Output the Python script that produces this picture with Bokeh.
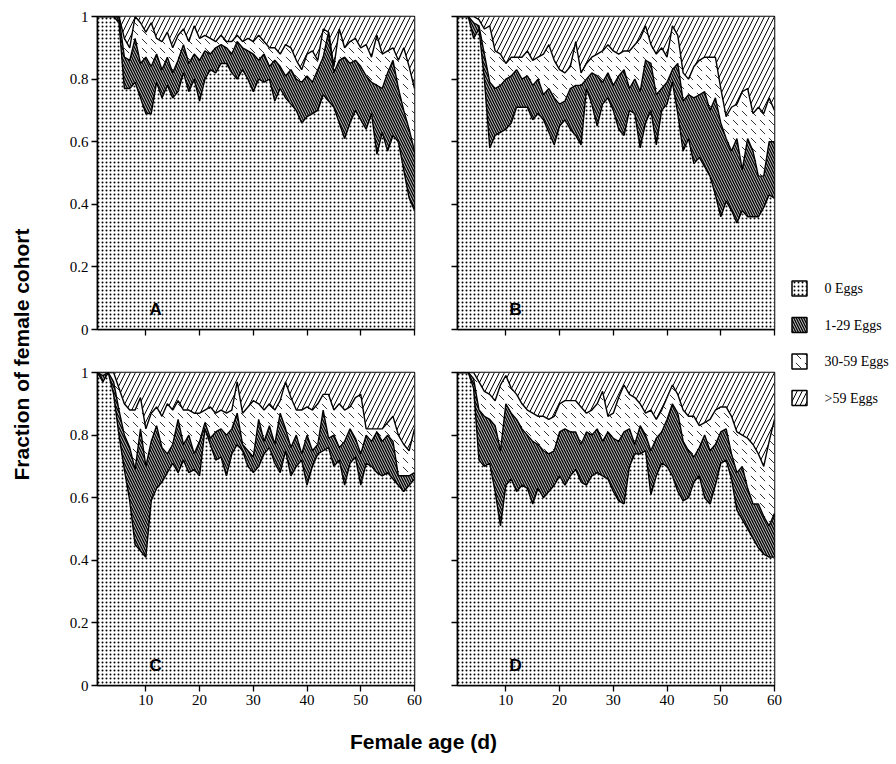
import numpy as np
from bokeh.plotting import figure
from bokeh.layouts import row, column
from bokeh.models import Range1d, FixedTicker, Label
from bokeh.embed import file_html
from bokeh.resources import INLINE
from bokeh.core.properties import value

# ---------------- data ----------------
days = list(range(1, 61))

# cumulative fractions: top of "0 Eggs", top of "1-29 Eggs", top of "30-59 Eggs" (rest up to 1 is ">59 Eggs")
A_zero = [1, 1, 1, 1, 0.98, 0.77, 0.77, 0.79, 0.74, 0.69, 0.69, 0.79, 0.74, 0.78, 0.74,
          0.76, 0.82, 0.76, 0.80, 0.73, 0.80, 0.83, 0.82, 0.85, 0.85, 0.82, 0.80, 0.83, 0.80, 0.76,
          0.80, 0.79, 0.80, 0.73, 0.77, 0.74, 0.72, 0.70, 0.66, 0.68, 0.69, 0.70, 0.75, 0.73, 0.71,
          0.66, 0.61, 0.66, 0.70, 0.67, 0.64, 0.69, 0.56, 0.63, 0.57, 0.62, 0.60, 0.51, 0.42, 0.38]
A_low = [1, 1, 1, 1, 1, 0.87, 0.86, 0.93, 0.85, 0.87, 0.84, 0.88, 0.83, 0.87, 0.82,
         0.86, 0.91, 0.85, 0.88, 0.86, 0.89, 0.88, 0.90, 0.91, 0.90, 0.88, 0.92, 0.90, 0.89, 0.88,
         0.86, 0.88, 0.84, 0.86, 0.84, 0.81, 0.83, 0.80, 0.79, 0.81, 0.79, 0.83, 0.87, 0.95, 0.82,
         0.86, 0.87, 0.85, 0.86, 0.84, 0.81, 0.79, 0.78, 0.77, 0.82, 0.86, 0.77, 0.70, 0.64, 0.57]
A_mid = [1, 1, 1, 1, 1, 0.93, 0.90, 1.0, 0.98, 0.95, 0.98, 0.93, 0.92, 0.95, 0.90,
         0.94, 0.96, 0.92, 0.97, 0.93, 0.94, 0.93, 0.92, 0.94, 0.92, 0.92, 0.94, 0.92, 0.93, 0.92,
         0.94, 0.92, 0.90, 0.90, 0.88, 0.91, 0.90, 0.86, 0.83, 0.88, 0.89, 0.86, 0.96, 0.95, 0.84,
         0.96, 0.90, 0.92, 0.93, 0.90, 0.91, 0.87, 0.94, 0.88, 0.89, 0.90, 0.86, 0.90, 0.84, 0.77]

B_zero = [1, 1, 1, 0.93, 0.96, 0.80, 0.58, 0.62, 0.63, 0.64, 0.66, 0.71, 0.71, 0.71, 0.67,
          0.69, 0.67, 0.63, 0.59, 0.65, 0.67, 0.64, 0.62, 0.59, 0.77, 0.72, 0.65, 0.72, 0.74, 0.70,
          0.64, 0.62, 0.70, 0.69, 0.58, 0.66, 0.70, 0.59, 0.70, 0.72, 0.79, 0.69, 0.57, 0.61, 0.53,
          0.55, 0.52, 0.49, 0.43, 0.36, 0.41, 0.38, 0.34, 0.38, 0.36, 0.36, 0.36, 0.39, 0.43, 0.42]
B_low = [1, 1, 1, 0.98, 0.97, 0.88, 0.79, 0.77, 0.78, 0.80, 0.81, 0.83, 0.80, 0.81, 0.78,
         0.80, 0.75, 0.77, 0.74, 0.72, 0.73, 0.77, 0.78, 0.78, 0.80, 0.82, 0.81, 0.79, 0.82, 0.78,
         0.81, 0.83, 0.77, 0.80, 0.76, 0.86, 0.85, 0.75, 0.77, 0.79, 0.83, 0.85, 0.73, 0.75, 0.74,
         0.75, 0.76, 0.70, 0.74, 0.66, 0.61, 0.57, 0.61, 0.51, 0.61, 0.57, 0.49, 0.49, 0.60, 0.60]
B_mid = [1, 1, 1, 1.0, 0.99, 0.96, 0.97, 0.89, 0.88, 0.85, 0.87, 0.87, 0.87, 0.89, 0.86,
         0.87, 0.88, 0.91, 0.86, 0.83, 0.82, 0.84, 0.92, 0.82, 0.85, 0.87, 0.88, 0.89, 0.91, 0.89,
         0.88, 0.89, 0.89, 0.91, 0.93, 0.97, 0.91, 0.88, 0.90, 0.87, 0.97, 0.94, 0.82, 0.80, 0.84,
         0.86, 0.87, 0.87, 0.87, 0.77, 0.68, 0.71, 0.72, 0.76, 0.77, 0.69, 0.71, 0.69, 0.74, 0.70]

C_zero = [1, 0.97, 1, 0.93, 0.80, 0.69, 0.59, 0.45, 0.43, 0.41, 0.59, 0.63, 0.65, 0.68, 0.71,
          0.68, 0.72, 0.68, 0.69, 0.67, 0.82, 0.77, 0.72, 0.73, 0.67, 0.74, 0.77, 0.75, 0.70, 0.68,
          0.70, 0.74, 0.76, 0.71, 0.68, 0.75, 0.67, 0.70, 0.72, 0.64, 0.70, 0.74, 0.75, 0.76, 0.70,
          0.72, 0.64, 0.71, 0.73, 0.64, 0.71, 0.70, 0.68, 0.67, 0.68, 0.66, 0.64, 0.62, 0.64, 0.66]
C_low = [1, 0.99, 1, 0.97, 0.88, 0.80, 0.76, 0.69, 0.82, 0.70, 0.78, 0.83, 0.76, 0.74, 0.77,
         0.85, 0.77, 0.80, 0.74, 0.78, 0.84, 0.79, 0.81, 0.82, 0.80, 0.82, 0.87, 0.77, 0.75, 0.73,
         0.85, 0.78, 0.83, 0.77, 0.87, 0.82, 0.76, 0.80, 0.74, 0.80, 0.75, 0.77, 0.88, 0.79, 0.80,
         0.76, 0.78, 0.82, 0.79, 0.74, 0.80, 0.78, 0.81, 0.78, 0.80, 0.78, 0.67, 0.67, 0.67, 0.68]
C_mid = [1, 1, 1, 1, 0.95, 0.90, 0.88, 0.88, 0.92, 0.82, 0.87, 0.89, 0.86, 0.90, 0.88,
         0.91, 0.88, 0.88, 0.87, 0.87, 0.88, 0.89, 0.87, 0.88, 0.87, 0.88, 0.97, 0.87, 0.89, 0.91,
         0.90, 0.88, 0.90, 0.88, 0.91, 0.97, 0.92, 0.88, 0.88, 0.89, 0.88, 0.90, 0.93, 0.93, 0.88,
         0.90, 0.88, 0.89, 0.92, 0.93, 0.82, 0.82, 0.82, 0.82, 0.84, 0.86, 0.80, 0.77, 0.75, 0.82]

D_zero = [1, 1, 1, 0.95, 0.72, 0.70, 0.71, 0.62, 0.51, 0.64, 0.66, 0.62, 0.64, 0.63, 0.58,
          0.63, 0.60, 0.62, 0.64, 0.67, 0.64, 0.67, 0.69, 0.65, 0.64, 0.67, 0.68, 0.67, 0.66, 0.62,
          0.59, 0.58, 0.70, 0.74, 0.74, 0.75, 0.61, 0.67, 0.71, 0.70, 0.67, 0.62, 0.59, 0.60, 0.65,
          0.67, 0.60, 0.58, 0.64, 0.71, 0.72, 0.66, 0.56, 0.53, 0.50, 0.47, 0.44, 0.42, 0.41, 0.41]
D_low = [1, 1, 1, 0.98, 0.88, 0.86, 0.85, 0.83, 0.75, 0.90, 0.87, 0.85, 0.82, 0.80, 0.78,
         0.77, 0.75, 0.74, 0.75, 0.81, 0.82, 0.81, 0.81, 0.77, 0.81, 0.80, 0.82, 0.78, 0.81, 0.79,
         0.78, 0.81, 0.82, 0.77, 0.83, 0.80, 0.75, 0.79, 0.81, 0.85, 0.90, 0.87, 0.78, 0.75, 0.73,
         0.76, 0.80, 0.75, 0.77, 0.81, 0.82, 0.74, 0.68, 0.70, 0.63, 0.58, 0.58, 0.54, 0.51, 0.55]
D_mid = [1, 1, 1, 1.0, 0.97, 0.94, 0.93, 0.91, 0.96, 0.99, 0.95, 0.93, 0.90, 0.88, 0.87,
         0.86, 0.86, 0.85, 0.86, 0.90, 0.91, 0.91, 0.91, 0.89, 0.87, 0.88, 0.90, 0.94, 0.86, 0.87,
         0.92, 0.96, 0.93, 0.92, 0.90, 0.87, 0.88, 0.85, 0.88, 0.92, 0.96, 0.93, 0.88, 0.86, 0.86,
         0.83, 0.84, 0.85, 0.88, 0.89, 0.89, 0.86, 0.81, 0.80, 0.79, 0.77, 0.74, 0.70, 0.78, 0.85]

categories = ["0 Eggs", "1-29 Eggs", "30-59 Eggs", ">59 Eggs"]
panel_letters = ["A", "B", "C", "D"]
y_ticks = [0, 0.2, 0.4, 0.6, 0.8, 1]
y_tick_labels = ["0", "0.2", "0.4", "0.6", "0.8", "1"]
x_ticks = [10, 20, 30, 40, 50, 60]
x_tick_labels = ["10", "20", "30", "40", "50", "60"]
y_title = "Fraction of female cohort"
x_title = "Female age (d)"

# ---------------- styles ----------------
STYLES = [
    dict(fill_color="white", hatch_pattern="dot", hatch_color="black", hatch_scale=4, hatch_weight=1.6),
    dict(fill_color="black", hatch_pattern="left_diagonal_line", hatch_color="white", hatch_scale=5, hatch_weight=0.8),
    dict(fill_color="white", hatch_pattern="left_diagonal_dash", hatch_color="black", hatch_scale=9, hatch_weight=0.8),
    dict(fill_color="white", hatch_pattern="right_diagonal_line", hatch_color="black", hatch_scale=10, hatch_weight=1.0),
]
SERIF = "Liberation Serif"
SANS = "Liberation Sans"


def make_panel(zero, low, mid, letter, x_labels, y_labels, width, height, bl, br, bb):
    p = figure(width=width, height=height, x_range=Range1d(1, 60), y_range=Range1d(0, 1),
               output_backend="svg", toolbar_location=None,
               min_border_left=bl, min_border_right=br, min_border_top=16, min_border_bottom=bb)
    p.background_fill_color = "white"
    p.border_fill_color = "white"
    p.grid.visible = False
    p.outline_line_color = "black"
    p.outline_line_width = 1.5
    n = len(days)
    bounds = [np.zeros(n), np.array(zero), np.array(low), np.array(mid), np.ones(n)]
    for i in range(4):
        p.varea(x=days, y1=bounds[i], y2=bounds[i + 1], **STYLES[i])
    for b in bounds[1:4]:
        p.line(days, b, line_color="black", line_width=1.4)

    for ax in (p.xaxis[0], p.yaxis[0]):
        ax.axis_line_color = "black"
        ax.axis_line_width = 1.5
        ax.major_tick_line_color = "black"
        ax.major_tick_line_width = 1.3
        ax.major_tick_out = 6
        ax.major_tick_in = 0
        ax.minor_tick_line_color = None
        ax.major_label_text_font = SERIF
        ax.major_label_text_font_size = "15px"
        ax.major_label_text_color = "black"
        ax.major_label_standoff = 3
    p.yaxis.ticker = FixedTicker(ticks=y_ticks)
    p.xaxis.ticker = FixedTicker(ticks=x_ticks)
    p.yaxis.major_label_overrides = {t: (l if y_labels else "") for t, l in zip(y_ticks, y_tick_labels)}
    p.xaxis.major_label_overrides = {t: (l if x_labels else "") for t, l in zip(x_ticks, x_tick_labels)}

    p.add_layout(Label(x=11.8, y=0.065, text=letter, text_align="center", text_baseline="middle",
                       text_font=SANS, text_font_style="bold", text_font_size="17px", text_color="black"))
    return p


pA = make_panel(A_zero, A_low, A_mid, panel_letters[0], False, True, 384, 356, 57, 10, 27)
pB = make_panel(B_zero, B_low, B_mid, panel_letters[1], False, False, 360, 356, 33, 10, 27)
pC = make_panel(C_zero, C_low, C_mid, panel_letters[2], True, True, 384, 364, 57, 10, 35)
pD = make_panel(D_zero, D_low, D_mid, panel_letters[3], True, False, 360, 364, 33, 10, 35)


def blank_fig(width, height, x0, y0):
    f = figure(width=width, height=height, x_range=Range1d(x0, x0 + width), y_range=Range1d(y0 + height, y0),
               output_backend="svg", toolbar_location=None,
               min_border_left=0, min_border_right=0, min_border_top=0, min_border_bottom=0)
    f.axis.visible = False
    f.grid.visible = False
    f.outline_line_color = None
    f.background_fill_color = "white"
    f.border_fill_color = "white"
    return f


# y-axis title
fy = blank_fig(40, 720, 0, 0)
fy.add_layout(Label(x=21, y=354, text=y_title, angle=np.pi / 2, angle_units="rad",
                    text_align="center", text_baseline="middle",
                    text_font=SANS, text_font_style="bold", text_font_size="21px", text_color="black"))

# legend
fl = blank_fig(112, 720, 784, 0)
for i, cat in enumerate(categories):
    yc = 288 + 36.5 * i
    fl.rect(x=[799], y=[yc], width=15, height=15, line_color="black", line_width=1.5, **STYLES[i])
fl.text(x=[824] * 4, y=[288 + 36.5 * i for i in range(4)], text=categories,
        text_font=value(SERIF), text_font_size="14px", text_baseline="middle", text_align="left",
        text_color="black")

# x-axis title
fx = blank_fig(896, 44, 0, 720)
fx.add_layout(Label(x=423, y=741, text=x_title, text_align="center", text_baseline="middle",
                    text_font=SANS, text_font_style="bold", text_font_size="21px", text_color="black"))

grid = column(row(pA, pB), row(pC, pD))
layout = column(row(fy, grid, fl), fx)

open("out.html", "w").write(file_html(layout, INLINE))
